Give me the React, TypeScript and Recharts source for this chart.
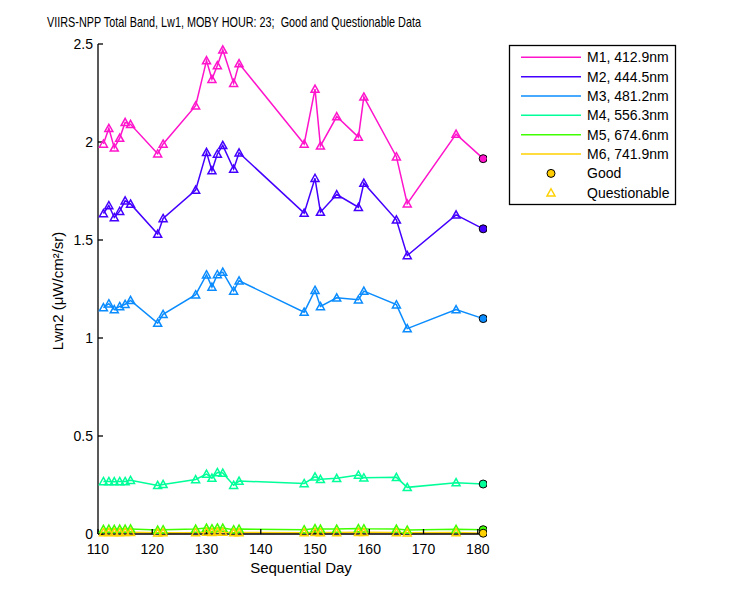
import React from 'react';
import { ComposedChart, Line, XAxis, YAxis } from 'recharts';

const days = [111, 112, 113, 114, 115, 116, 121, 122, 128, 130, 131, 132, 133, 135, 136, 148, 150, 151, 154, 158, 159, 165, 167, 176, 181];
const quality = ['Q', 'Q', 'Q', 'Q', 'Q', 'Q', 'Q', 'Q', 'Q', 'Q', 'Q', 'Q', 'Q', 'Q', 'Q', 'Q', 'Q', 'Q', 'Q', 'Q', 'Q', 'Q', 'Q', 'Q', 'G'];

const m1 = [1.99, 2.07, 1.97, 2.02, 2.10, 2.09, 1.94, 1.99, 2.185, 2.415, 2.32, 2.39, 2.47, 2.30, 2.40, 1.99, 2.27, 1.98, 2.13, 2.025, 2.23, 1.925, 1.685, 2.04, 1.915];
const m2 = [1.635, 1.676, 1.615, 1.647, 1.70, 1.684, 1.53, 1.61, 1.755, 1.947, 1.854, 1.939, 1.983, 1.862, 1.945, 1.637, 1.815, 1.642, 1.732, 1.667, 1.79, 1.603, 1.421, 1.628, 1.557];
const m3 = [1.155, 1.175, 1.145, 1.161, 1.172, 1.192, 1.076, 1.121, 1.221, 1.323, 1.26, 1.324, 1.336, 1.24, 1.292, 1.132, 1.244, 1.161, 1.205, 1.195, 1.239, 1.17, 1.048, 1.145, 1.099];
const m4 = [0.268, 0.268, 0.267, 0.268, 0.268, 0.274, 0.248, 0.253, 0.278, 0.306, 0.285, 0.314, 0.311, 0.249, 0.27, 0.258, 0.292, 0.279, 0.284, 0.301, 0.287, 0.289, 0.238, 0.262, 0.255];
const m5 = [0.024, 0.025, 0.024, 0.025, 0.025, 0.026, 0.020, 0.022, 0.025, 0.030, 0.027, 0.031, 0.030, 0.022, 0.025, 0.022, 0.028, 0.025, 0.025, 0.028, 0.027, 0.025, 0.020, 0.024, 0.022];
const m6 = [0.008, 0.009, 0.008, 0.008, 0.009, 0.009, 0.006, 0.007, 0.008, 0.010, 0.009, 0.011, 0.010, 0.007, 0.008, 0.007, 0.009, 0.008, 0.008, 0.009, 0.009, 0.008, 0.006, 0.008, 0.004];

const seriesKeys = ['M1', 'M2', 'M3', 'M4', 'M5', 'M6'];
const seriesNames = ['M1, 412.9nm', 'M2, 444.5nm', 'M3, 481.2nm', 'M4, 556.3nm', 'M5, 674.6nm', 'M6, 741.9nm'];
const seriesColors = ['#FF14CC', '#4400FF', '#0A8CFF', '#00FF99', '#40FF00', '#FFD000'];
const seriesValues = [m1, m2, m3, m4, m5, m6];

const xTicks = [110, 120, 130, 140, 150, 160, 170, 180];
const yTicks = [0, 0.5, 1, 1.5, 2, 2.5];

const titleText = 'VIIRS-NPP Total Band, Lw1, MOBY HOUR: 23;  Good and Questionable Data';
const xLabel = 'Sequential Day';
const yLabel = 'Lwn2 (\u03BCW/cm\u00B2/sr)';
const goodLabel = 'Good';
const questLabel = 'Questionable';

const data = days.map((d, i) => {
  const row: any = { day: d, q: quality[i] };
  seriesKeys.forEach((k, j) => {
    row[k] = seriesValues[j][i];
  });
  return row;
});

const FONT = '"Liberation Sans", Arial, sans-serif';

const makeDot = (color: string) => (props: any) => {
  const { cx, cy, payload, index } = props;
  if (cx == null || cy == null) return <g key={`e-${index}`} />;
  if (payload.q === 'G') {
    return <circle key={`g-${index}`} cx={cx} cy={cy} r={4} fill={color} stroke="#000" strokeWidth={1} />;
  }
  const s = 4;
  return (
    <path
      key={`q-${index}`}
      d={`M${cx},${cy - s} L${cx + s},${cy + s * 0.8} L${cx - s},${cy + s * 0.8} Z`}
      fill="none"
      stroke={color}
      strokeWidth={1.5}
    />
  );
};

export default function App() {
  const legendX = 509.5;
  const legendY = 45.5;
  const rowH = 19.35;
  return (
    <div style={{ position: 'absolute', left: 0, top: 0, width: 750, height: 600, background: '#fff' }}>
      <ComposedChart
        width={750}
        height={600}
        data={data}
        margin={{ top: 44, right: 263, bottom: 36, left: 58 }}
      >
        <XAxis
          xAxisId="b"
          dataKey="day"
          type="number"
          domain={[110, 181.7]}
          allowDataOverflow
          ticks={xTicks}
          height={30}
          tickSize={-5}
          tickMargin={15}
          stroke="#000"
          strokeWidth={1.3}
          tick={{ fill: '#000', fontSize: 14, fontFamily: FONT }}
        />
        <XAxis
          xAxisId="t"
          orientation="top"
          dataKey="day"
          type="number"
          domain={[110, 181.7]}
          allowDataOverflow
          ticks={xTicks}
          height={0}
          tickSize={-5}
          tickFormatter={() => ''}
          stroke="#000"
          strokeWidth={1.3}
        />
        <YAxis
          yAxisId="l"
          type="number"
          domain={[0, 2.5]}
          ticks={yTicks}
          width={40}
          tickSize={-5}
          tickMargin={10}
          stroke="#000"
          strokeWidth={1.3}
          tick={{ fill: '#000', fontSize: 14, fontFamily: FONT }}
        />
        <YAxis
          yAxisId="r"
          orientation="right"
          type="number"
          domain={[0, 2.5]}
          ticks={yTicks}
          width={0}
          tickSize={-5}
          tickFormatter={() => ''}
          stroke="#000"
          strokeWidth={1.3}
        />
        {seriesKeys.map((k, j) => (
          <Line
            key={k}
            xAxisId="b"
            yAxisId="l"
            type="linear"
            dataKey={k}
            stroke={seriesColors[j]}
            strokeWidth={1.5}
            dot={makeDot(seriesColors[j])}
            activeDot={false}
            isAnimationActive={false}
          />
        ))}
      </ComposedChart>
      <svg
        width={750}
        height={600}
        style={{ position: 'absolute', left: 0, top: 0, pointerEvents: 'none' }}
      >
        <text
          x={47}
          y={27}
          fontSize={14.5}
          fontFamily={FONT}
          fill="#000"
          textLength={374}
          lengthAdjust="spacingAndGlyphs"
          style={{ whiteSpace: 'pre' }}
        >
          {titleText}
        </text>
        <text x={301} y={573} fontSize={15} fontFamily={FONT} fill="#000" textAnchor="middle">
          {xLabel}
        </text>
        <text
          x={0}
          y={0}
          fontSize={15}
          fontFamily={FONT}
          fill="#000"
          textAnchor="middle"
          transform="translate(63,291) rotate(-90)"
        >
          {yLabel}
        </text>
        <rect x={legendX} y={legendY} width={166} height={159} fill="#fff" stroke="#000" strokeWidth={1.3} />
        {seriesNames.map((n, j) => {
          const cy = 57.3 + rowH * j;
          return (
            <g key={n}>
              <line x1={521} x2={581} y1={cy} y2={cy} stroke={seriesColors[j]} strokeWidth={1.5} />
              <text x={587} y={cy + 5} fontSize={14} fontFamily={FONT} fill="#000">
                {n}
              </text>
            </g>
          );
        })}
        <circle cx={551} cy={57.3 + rowH * 6} r={4} fill="#FFCC00" stroke="#000" strokeWidth={1} />
        <text x={587} y={57.3 + rowH * 6 + 5} fontSize={14} fontFamily={FONT} fill="#000">
          {goodLabel}
        </text>
        <path
          d={`M551,${57.3 + rowH * 7 - 4} L555,${57.3 + rowH * 7 + 3.2} L547,${57.3 + rowH * 7 + 3.2} Z`}
          fill="none"
          stroke="#FFD000"
          strokeWidth={1.5}
        />
        <text x={587} y={57.3 + rowH * 7 + 5} fontSize={14} fontFamily={FONT} fill="#000">
          {questLabel}
        </text>
      </svg>
    </div>
  );
}
